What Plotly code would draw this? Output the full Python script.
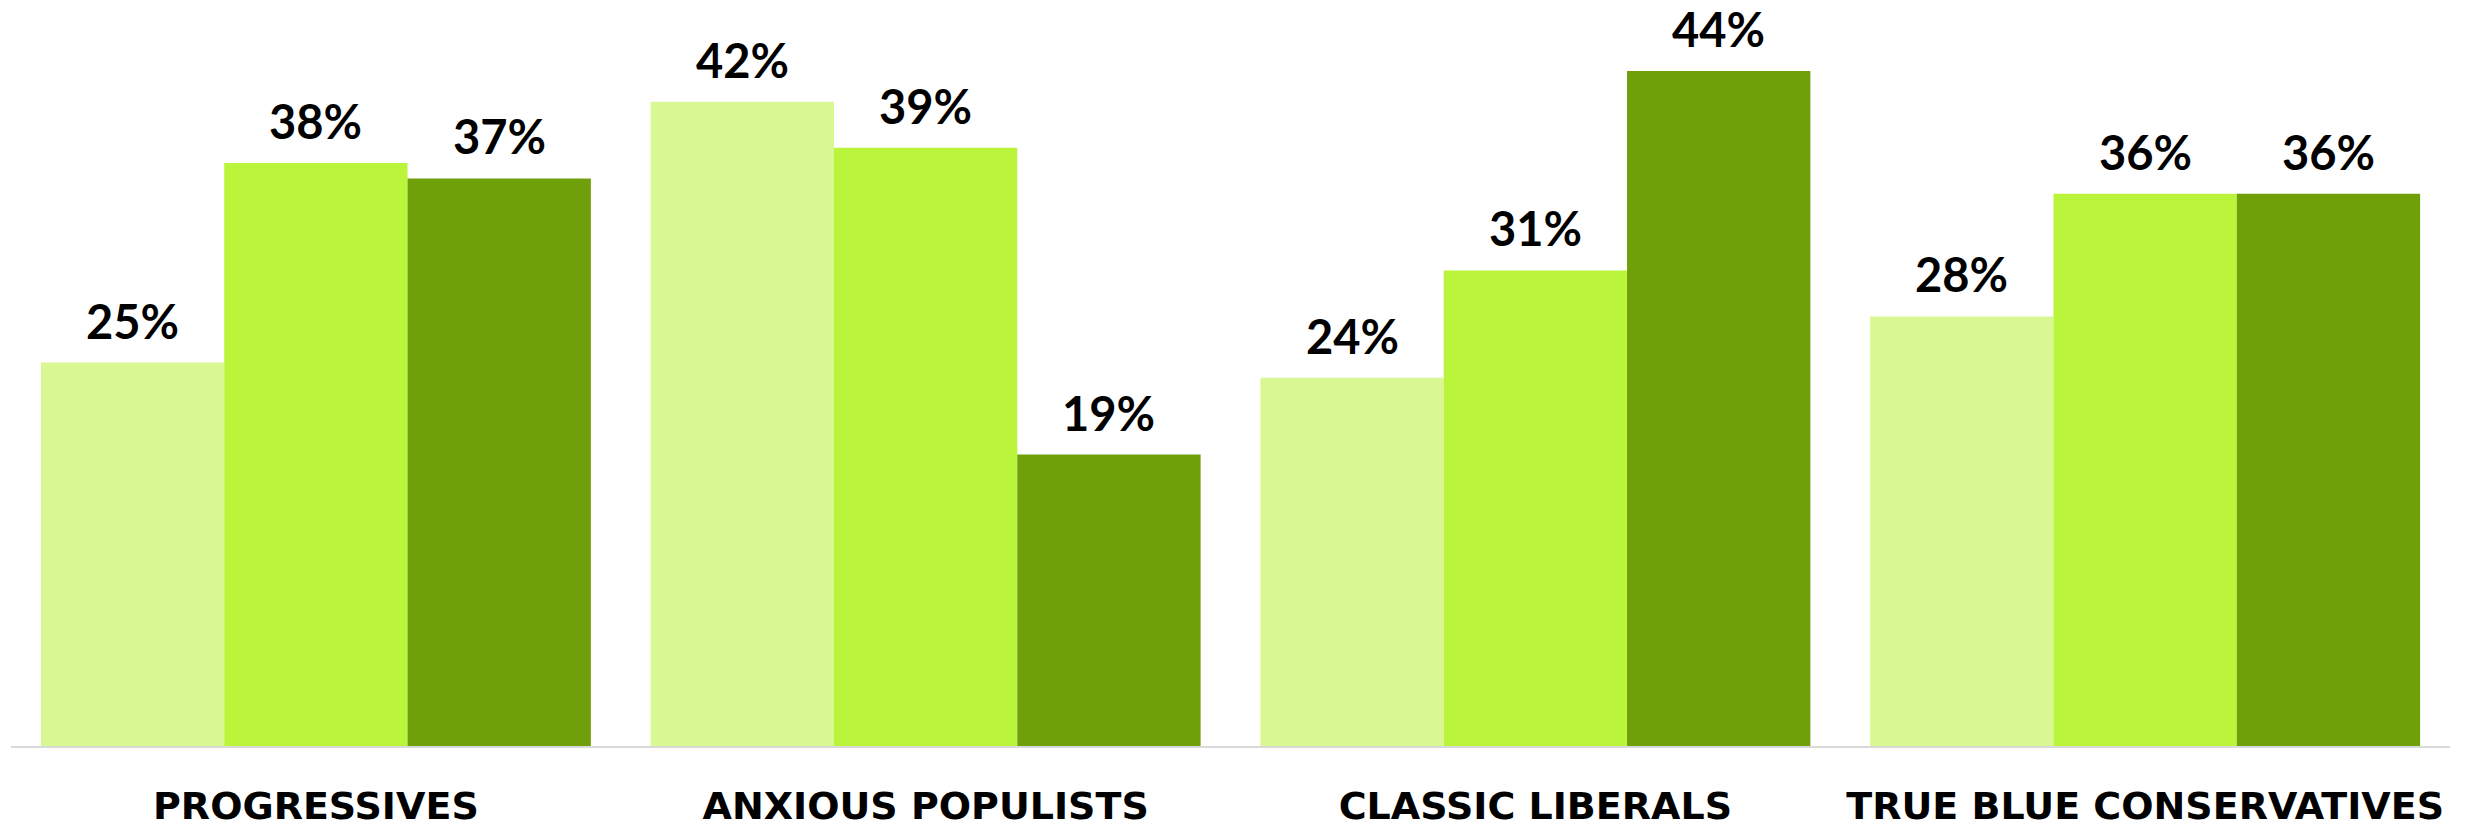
import plotly.graph_objects as go

categories = ["PROGRESSIVES", "ANXIOUS POPULISTS", "CLASSIC LIBERALS", "TRUE BLUE CONSERVATIVES"]
series_names = ["Series 1", "Series 2", "Series 3"]
series_1 = [25, 42, 24, 28]
series_2 = [38, 39, 31, 36]
series_3 = [37, 19, 44, 36]
colors = ["#D9F894", "#BAF53B", "#6FA00A"]

all_series = [series_1, series_2, series_3]
bargap = 0.098
bar_w = (1 - bargap) / len(all_series)

fig = go.Figure()
for name, vals, col in zip(series_names, all_series, colors):
    fig.add_trace(go.Bar(
        x=categories, y=vals, name=name,
        marker=dict(color=col, line=dict(width=0)),
        hoverinfo="skip",
    ))

annotations = []
for k, vals in enumerate(all_series):
    off = (k - (len(all_series) - 1) / 2) * bar_w
    for i, v in enumerate(vals):
        annotations.append(dict(
            x=i + off, y=v, xref="x", yref="y",
            text=f"{v}%", showarrow=False, borderpad=0,
            yanchor="middle", xanchor="center", yshift=42,
            font=dict(family="Lato", size=47, color="#000000", weight=700),
        ))

fig.update_layout(
    width=2466, height=823,
    margin=dict(l=3, r=24, t=0, b=85),
    barmode="group", bargap=bargap, bargroupgap=0,
    plot_bgcolor="white", paper_bgcolor="white",
    showlegend=False,
    annotations=annotations,
    xaxis=dict(
        type="category", showline=True, linecolor="#D9D9D9", linewidth=2,
        showgrid=False, ticks="", zeroline=False,
        tickfont=dict(family="DejaVu Sans", size=38, color="#000000", weight=700),
        ticklabelstandoff=25,
    ),
    yaxis=dict(
        range=[0, 48.11], visible=False, showgrid=False, zeroline=False,
    ),
)

fig.write_html("out.html")
